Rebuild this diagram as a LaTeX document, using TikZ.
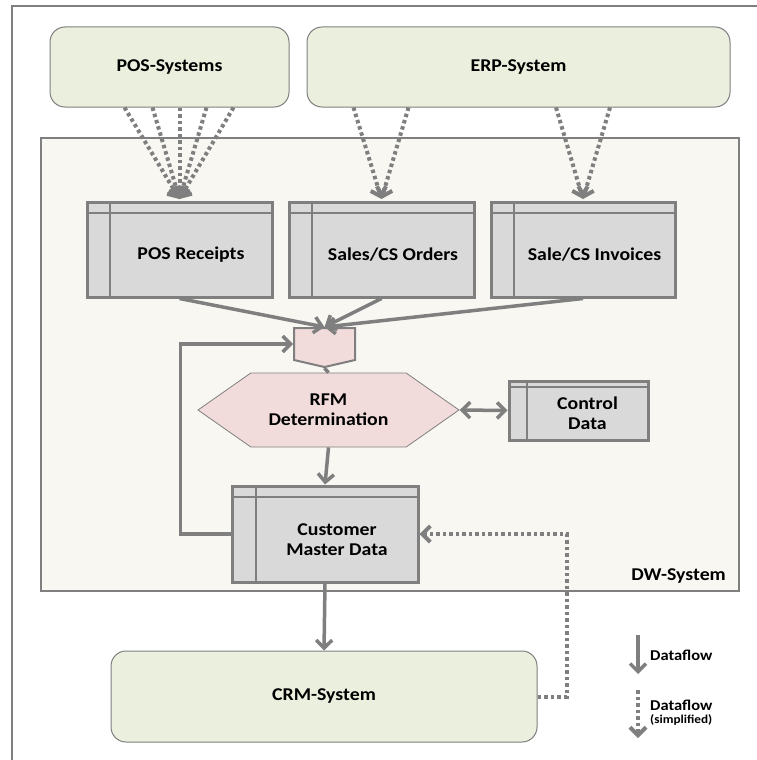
\documentclass[tikz,border=0pt]{standalone}
\usepackage{fontspec}
\setmainfont{Carlito}[FakeStretch=1.1]
\usetikzlibrary{arrows.meta,calc,shapes.symbols}
\definecolor{gr}{HTML}{7F7F7F}
\definecolor{sysfill}{HTML}{EBEFDE}
\definecolor{tabfill}{HTML}{D9D9D9}
\definecolor{pinkfill}{HTML}{F2DCDB}
\definecolor{dwfill}{HTML}{F8F7F2}
\begin{document}
\begin{tikzpicture}[x=1pt,y=-1pt,
  font=\fontsize{18}{20}\selectfont\bfseries,
  sysbox/.style={draw=gr, line width=1pt, fill=sysfill, rounded corners=15pt, inner sep=0pt},
  tbl/.style n args={2}{draw=gr, line width=3pt, fill=tabfill, inner sep=0pt,
    path picture={
      \draw[gr, line width=2.5pt] ($(path picture bounding box.north west)+(0,#1)$) -- ($(path picture bounding box.north east)+(0,#1)$);
      \draw[gr, line width=2.5pt] ($(path picture bounding box.north west)+(#2,0)$) -- ($(path picture bounding box.south west)+(#2,0)$);
    }},
  lbl/.style={align=center, inner sep=0pt},
  pinkshape/.style={draw=gr, line width=0.8pt, fill=pinkfill, inner sep=0pt, align=center},
  flow/.style={draw=gr, line width=3.5pt, -{Straight Barb[length=8pt,width=16pt]}},
  dflow/.style={draw=gr, line width=4pt, dash pattern=on 3.5pt off 3pt, -{Straight Barb[length=8pt,width=16pt]}},
]
\useasboundingbox (0,0) rectangle (757,760);
\fill[white] (0,0) rectangle (757,760);
% outer frame
\draw[gr, line width=1.5pt] (12,760) -- (12,6) -- (757,6);

% DW system
\node[draw=gr, line width=2pt, fill=dwfill, minimum width=698, minimum height=453, inner sep=0pt] (dw) at (390,364.5) {};
\node[lbl, anchor=east] (dwl) at (726,576) {DW-System};

% source systems
\node[sysbox, minimum width=239, minimum height=80] (pos) at (169.5,67) {POS-Systems};
\node[sysbox, minimum width=423, minimum height=80] (erp) at (518.5,67) {ERP-System};
\node[sysbox, minimum width=426, minimum height=91] (crm) at (324,696.5) {CRM-System};

% tables
\node[tbl={11}{23}, minimum width=185, minimum height=95] (posr) at (179.5,249.5) {};
\node[lbl] (posrl) at ([xshift=11.5pt,yshift=-5.5pt]posr.center) {POS Receipts};
\node[tbl={11}{23}, minimum width=185, minimum height=95] (sales) at (381.5,249.5) {};
\node[lbl] (salesl) at ([xshift=11.5pt,yshift=-5.5pt]sales.center) {Sales/CS Orders};
\node[tbl={11}{23}, minimum width=184, minimum height=95] (inv) at (583,249.5) {};
\node[lbl] (invl) at ([xshift=11.5pt,yshift=-5.5pt]inv.center) {Sale/CS Invoices};
\node[tbl={6}{18}, minimum width=139, minimum height=59] (ctrl) at (578.5,410.5) {};
\node[lbl] (ctrll) at ([xshift=9pt,yshift=-3pt]ctrl.center) {Control\\Data};
\node[tbl={11}{24}, minimum width=186, minimum height=96] (cmd) at (325,534) {};
\node[lbl] (cmdl) at ([xshift=12pt,yshift=-5.5pt]cmd.center) {Customer\\Master Data};

% junction and RFM
\node[pinkshape, line width=2pt, signal, signal to=south, signal from=nowhere, signal pointer angle=154,
  minimum width=61, minimum height=32] (junc) at (324.5,344) {};
\node[pinkshape, signal, signal to=west and east, signal from=nowhere, signal pointer angle=70,
  minimum width=261, minimum height=74] (rfm) at (328.5,410) {RFM\\Determination};

% dotted source flows
\foreach \dx in {-55,-27,0,27,54}
  \draw[dflow] ($(posr.north |- pos.south)+(\dx,0)$) -- ([yshift=1.5pt]posr.north);
\foreach \dx in {-28,27}
  \draw[dflow] ($(sales.north |- erp.south)+(\dx,0)$) -- ([yshift=1.5pt]sales.north);
\foreach \dx in {-27,27}
  \draw[dflow] ($(inv.north |- erp.south)+(\dx,0)$) -- ([yshift=1.5pt]inv.north);

% solid flows
\draw[flow] (posr.south) -- (junc.north);
\draw[flow] (sales.south) -- (junc.north);
\draw[flow] (inv.south) -- (junc.north);
\draw[gr, line width=3.5pt] (junc.south) -- (rfm.north);
\draw[flow] (rfm.south) -- (cmd.north);
\draw[draw=gr, line width=3.5pt, {Straight Barb[length=8pt,width=16pt]}-{Straight Barb[length=8pt,width=16pt]}] (rfm.east) -- (ctrl.west);
\draw[flow] (cmd.west) -- ++(-50,0) |- (junc.west);
\draw[flow] (cmd.south) -- (crm.north);
\draw[dflow] (crm.east) -- ++(29,0) |- (cmd.east);

% legend
\coordinate (l1a) at (638,635);
\coordinate (l1b) at (638,674);
\coordinate (l2a) at (638,690);
\coordinate (l2b) at (638,738);
\draw[flow] (l1a) -- (l1b);
\draw[dflow] (l2a) -- (l2b);
\node[lbl, anchor=west, font=\fontsize{15}{17}\selectfont\bfseries] (leg1) at (650,655) {Dataflow};
\node[lbl, anchor=west, font=\fontsize{15}{17}\selectfont\bfseries] (leg2) at (650,705) {Dataflow};
\node[lbl, anchor=west, font=\fontsize{12}{14}\selectfont\bfseries] (leg3) at (650,720) {(simplified)};
\end{tikzpicture}
\end{document}
